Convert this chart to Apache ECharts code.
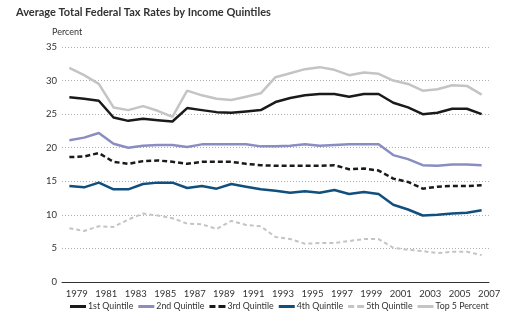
<!DOCTYPE html>
<html><head><meta charset="utf-8">
<script src="https://cdn.jsdelivr.net/npm/echarts@6/dist/echarts.min.js"></script>
<style>html,body{margin:0;padding:0;background:#fff}#c{width:527px;height:322px}</style>
</head><body><div id="c"></div>
<script>
var years = ['1979','1980','1981','1982','1983','1984','1985','1986','1987','1988','1989','1990','1991','1992','1993','1994','1995','1996','1997','1998','1999','2000','2001','2002','2003','2004','2005','2006','2007'];
var q1 = [27.5,27.3,27.0,24.5,24.0,24.3,24.1,23.9,25.9,25.6,25.3,25.2,25.4,25.6,26.8,27.4,27.8,28.0,28.0,27.6,28.0,28.0,26.7,26.0,25.0,25.2,25.8,25.8,25.0];
var q2 = [21.1,21.5,22.2,20.6,20.0,20.3,20.4,20.4,20.1,20.5,20.5,20.5,20.5,20.2,20.2,20.3,20.5,20.3,20.4,20.5,20.5,20.5,18.9,18.3,17.4,17.3,17.5,17.5,17.4];
var q3 = [18.6,18.7,19.2,17.9,17.6,18.0,18.1,17.9,17.6,17.9,17.9,17.9,17.6,17.4,17.3,17.3,17.3,17.3,17.4,16.8,16.9,16.6,15.4,14.9,13.9,14.2,14.3,14.3,14.4];
var q4 = [14.3,14.1,14.8,13.8,13.8,14.6,14.8,14.8,14.0,14.3,13.9,14.6,14.2,13.8,13.6,13.3,13.5,13.3,13.7,13.1,13.4,13.1,11.5,10.8,9.9,10.0,10.2,10.3,10.7];
var q5 = [8.0,7.6,8.3,8.2,9.3,10.2,9.9,9.5,8.7,8.6,7.9,9.1,8.5,8.3,6.7,6.4,5.7,5.8,5.8,6.1,6.4,6.4,5.1,4.8,4.6,4.3,4.5,4.5,4.0];
var top5 = [31.9,30.8,29.5,26.0,25.6,26.2,25.5,24.6,28.5,27.8,27.3,27.1,27.6,28.1,30.5,31.1,31.7,32.0,31.6,30.8,31.2,31.0,30.0,29.5,28.5,28.7,29.3,29.2,27.9];
var names = ['1st Quintile','2nd Quintile','3rd Quintile','4th Quintile','5th Quintile','Top 5 Percent'];
var yTicks = [0,35,5];

var chart = echarts.init(document.getElementById('c'));
var font = 'Lato';
var solidIcon = 'path://M0,0H16V3H0Z';
var dashIcon = 'path://M0,0H6V3H0Z M9,0H16V3H9Z';
function s(name, data, color, width, type, z){
  return {name:name, type:'line', data:data, symbol:'none', smooth:false, z:z,
    lineStyle:{color:color, width:width, type:type}, itemStyle:{color:color}};
}
var icons = [solidIcon, solidIcon, dashIcon, solidIcon, dashIcon, solidIcon];
chart.setOption({
  animation:false,
  textStyle:{fontFamily:font},
  title:{text:'Average Total Federal Tax Rates by Income Quintiles', left:11, top:2,
    textStyle:{fontFamily:font, fontSize:11, fontWeight:'bold', color:'#333'}},
  graphic:[{type:'text', left:52, top:28, style:{text:'Percent', fontFamily:font, fontSize:9, fill:'#333'}}],
  grid:{left:62, right:38, top:47, bottom:40},
  legend:{bottom:6, left:65, itemWidth:16, itemHeight:3, itemGap:5,
    textStyle:{fontFamily:font, fontSize:8.8, color:'#333', padding:[0,0,0,-3]},
    data:names.map(function(n,i){return {name:n, icon:icons[i]};})},
  xAxis:{type:'category', data:years, boundaryGap:true,
    axisLine:{lineStyle:{color:'#333', width:1}},
    axisTick:{interval:1, length:3, lineStyle:{color:'#333'}},
    axisLabel:{interval:1, fontSize:9.5, color:'#333', margin:7, padding:[0,0,0,15]}},
  yAxis:{type:'value', min:yTicks[0], max:yTicks[1], interval:yTicks[2],
    axisLine:{show:false}, axisTick:{show:false},
    axisLabel:{fontSize:9.5, color:'#333', margin:5},
    splitLine:{lineStyle:{color:'#b0b0b0', type:[1,2], width:1}}},
  series:[
    s(names[0], q1, '#1a1a1a', 2.5, 'solid', 5),
    s(names[1], q2, '#8a8dc2', 2.5, 'solid', 4),
    s(names[2], q3, '#1a1a1a', 2.5, [5,3], 5),
    s(names[3], q4, '#114f7d', 2.5, 'solid', 4),
    s(names[4], q5, '#c4c4c4', 2, [4,3], 3),
    s(names[5], top5, '#c4c4c4', 2.5, 'solid', 3)
  ]
});
</script></body></html>
